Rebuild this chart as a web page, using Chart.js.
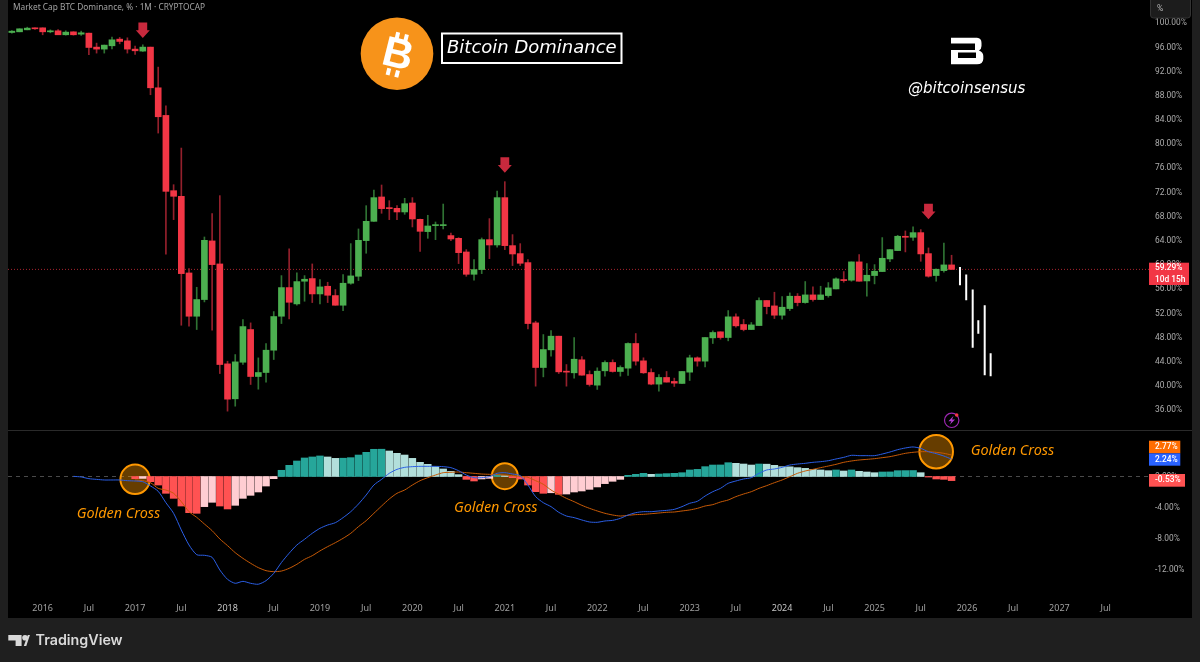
<!DOCTYPE html>
<html>
<head>
<meta charset="utf-8">
<title>Bitcoin Dominance</title>
<script src="https://cdn.jsdelivr.net/npm/chart.js@4"></script>
<style>
    html, body { margin: 0; padding: 0; background: #1f1f1f; overflow: hidden; }
    canvas { display: block; }
</style>
</head>
<body>
<canvas id="dominanceChart" width="1200" height="662"></canvas>
<script>
// Monthly categories
const monthLabels = [
    '2015-09', '2015-10', '2015-11', '2015-12',
    '2016-01', '2016-02', '2016-03', '2016-04', '2016-05', '2016-06', '2016-07', '2016-08', '2016-09', '2016-10', '2016-11', '2016-12',
    '2017-01', '2017-02', '2017-03', '2017-04', '2017-05', '2017-06', '2017-07', '2017-08', '2017-09', '2017-10', '2017-11', '2017-12',
    '2018-01', '2018-02', '2018-03', '2018-04', '2018-05', '2018-06', '2018-07', '2018-08', '2018-09', '2018-10', '2018-11', '2018-12',
    '2019-01', '2019-02', '2019-03', '2019-04', '2019-05', '2019-06', '2019-07', '2019-08', '2019-09', '2019-10', '2019-11', '2019-12',
    '2020-01', '2020-02', '2020-03', '2020-04', '2020-05', '2020-06', '2020-07', '2020-08', '2020-09', '2020-10', '2020-11', '2020-12',
    '2021-01', '2021-02', '2021-03', '2021-04', '2021-05', '2021-06', '2021-07', '2021-08', '2021-09', '2021-10', '2021-11', '2021-12',
    '2022-01', '2022-02', '2022-03', '2022-04', '2022-05', '2022-06', '2022-07', '2022-08', '2022-09', '2022-10', '2022-11', '2022-12',
    '2023-01', '2023-02', '2023-03', '2023-04', '2023-05', '2023-06', '2023-07', '2023-08', '2023-09', '2023-10', '2023-11', '2023-12',
    '2024-01', '2024-02', '2024-03', '2024-04', '2024-05', '2024-06', '2024-07', '2024-08', '2024-09', '2024-10', '2024-11', '2024-12',
    '2025-01', '2025-02', '2025-03', '2025-04', '2025-05', '2025-06', '2025-07', '2025-08', '2025-09', '2025-10', '2025-11', '2025-12',
    '2026-01', '2026-02', '2026-03', '2026-04', '2026-05', '2026-06', '2026-07', '2026-08', '2026-09', '2026-10', '2026-11', '2026-12',
    '2027-01', '2027-02', '2027-03', '2027-04', '2027-05', '2027-06', '2027-07', '2027-08', '2027-09', '2027-10', '2027-11', '2027-12'
];

// BTC dominance candles
const candleOpen = [
    98.48, 98.59, 98.92, 99.20, 99.25, 98.59, 98.76, 98.10, 98.59, 98.20,
    98.37, 96.06, 95.73, 96.28, 97.38, 97.10, 95.73, 95.40, 96.06, 89.33,
    84.76, 72.31, 71.38, 58.70, 51.54, 54.30, 64.00, 60.19, 43.66, 37.88,
    43.93, 49.34, 41.57, 42.23, 45.92, 51.54, 56.28, 53.58, 57.33, 57.77,
    55.23, 56.50, 54.96, 53.36, 57.00, 58.15, 64.05, 67.24, 71.27, 69.45,
    69.39, 68.79, 70.27, 67.57, 65.54, 66.53, 66.53, 64.88, 64.43, 62.17,
    58.48, 59.26, 64.21, 63.33, 71.16, 63.22, 61.90, 60.41, 50.44, 43.06,
    45.98, 48.24, 42.40, 42.18, 44.33, 41.90, 40.14, 42.51, 43.89, 42.40,
    42.95, 47.03, 44.16, 42.23, 40.31, 41.41, 40.75, 40.42, 42.29, 44.66,
    44.11, 47.96, 48.96, 48.02, 51.44, 50.17, 49.34, 50.00, 54.14, 53.25,
    51.71, 52.81, 54.85, 53.80, 55.07, 54.30, 54.96, 56.06, 57.61, 57.50,
    60.53, 57.38, 58.27, 58.93, 61.02, 62.40, 64.77, 64.60, 65.37, 61.90,
    58.27, 59.09, 60.03
];
const candleHigh = [
    98.81, 99.09, 99.36, 99.25, 99.25, 98.92, 98.98, 98.76, 98.60, 98.70,
    98.40, 96.72, 96.40, 97.71, 97.66, 97.60, 96.22, 96.44, 96.06, 92.75,
    86.36, 73.30, 79.36, 59.42, 56.33, 64.65, 68.51, 71.49, 44.10, 45.20,
    50.99, 50.44, 44.65, 47.02, 52.31, 58.26, 62.67, 58.70, 58.26, 60.19,
    57.60, 57.16, 55.95, 58.43, 63.55, 65.98, 69.83, 72.42, 73.25, 70.66,
    69.83, 71.05, 71.16, 67.60, 68.24, 67.13, 70.10, 65.31, 64.54, 62.56,
    60.91, 64.49, 67.69, 72.26, 73.80, 65.04, 63.55, 60.91, 50.72, 48.51,
    49.17, 48.24, 43.55, 48.00, 44.87, 42.51, 43.01, 44.16, 44.33, 43.34,
    47.14, 48.68, 44.66, 42.84, 41.90, 42.40, 41.30, 42.40, 45.10, 44.82,
    48.02, 49.12, 48.96, 52.48, 51.93, 51.00, 50.50, 54.58, 54.14, 55.51,
    54.80, 55.40, 55.29, 57.28, 56.40, 56.50, 57.11, 57.88, 58.93, 60.53,
    61.74, 60.25, 60.08, 64.55, 62.56, 64.93, 65.65, 66.31, 65.87, 62.84,
    59.37, 63.66, 61.63
];
const candleLow = [
    98.37, 98.59, 98.92, 98.98, 98.10, 98.43, 98.10, 98.04, 98.04, 98.00,
    94.80, 95.07, 95.07, 95.78, 96.60, 95.07, 94.85, 95.34, 88.18, 81.84,
    61.79, 67.52, 50.05, 49.89, 49.34, 53.91, 49.23, 42.06, 35.84, 36.66,
    43.55, 40.25, 39.47, 40.63, 44.38, 50.33, 51.10, 53.36, 54.02, 53.80,
    53.58, 53.80, 53.36, 52.48, 56.83, 57.44, 61.96, 67.24, 68.57, 67.52,
    67.52, 68.40, 66.31, 62.28, 64.43, 64.21, 65.98, 64.05, 60.25, 58.15,
    57.49, 58.59, 61.07, 62.95, 62.56, 59.92, 59.92, 49.45, 39.97, 41.51,
    44.93, 42.06, 39.97, 41.29, 41.79, 39.98, 39.43, 41.63, 42.29, 41.63,
    41.74, 43.45, 42.07, 40.20, 39.15, 40.64, 39.92, 40.42, 40.91, 43.28,
    43.17, 47.03, 47.74, 47.47, 49.73, 49.12, 49.34, 50.00, 51.93, 51.16,
    51.05, 52.48, 53.25, 53.69, 54.03, 54.30, 54.69, 56.06, 57.17, 57.33,
    57.33, 54.85, 56.89, 58.93, 60.58, 62.40, 62.18, 64.10, 60.63, 58.00,
    57.33, 58.82, 59.26
];
const candleClose = [
    98.70, 99.09, 99.20, 99.09, 98.59, 98.76, 98.10, 98.54, 98.10, 98.43,
    96.00, 95.73, 96.39, 97.27, 97.00, 95.73, 95.45, 96.06, 89.33, 84.54,
    72.20, 71.38, 58.59, 51.54, 54.30, 64.10, 60.08, 43.55, 37.82, 43.99,
    49.83, 41.57, 42.23, 45.92, 51.49, 56.28, 53.85, 57.27, 57.66, 55.23,
    56.39, 55.01, 53.36, 57.00, 58.21, 64.10, 67.24, 71.16, 69.34, 69.34,
    68.79, 70.16, 67.63, 65.59, 66.47, 66.64, 66.64, 64.32, 62.06, 58.48,
    59.26, 64.21, 63.33, 71.16, 63.22, 61.84, 60.30, 50.33, 43.06, 46.03,
    48.24, 42.34, 42.29, 44.43, 41.79, 40.25, 42.45, 43.89, 42.40, 43.06,
    47.03, 44.11, 42.18, 40.31, 41.41, 40.64, 40.47, 42.40, 44.66, 44.11,
    48.02, 48.85, 48.02, 51.44, 49.95, 49.34, 50.11, 54.14, 53.14, 51.71,
    53.03, 54.85, 53.80, 55.07, 54.30, 55.07, 56.23, 57.72, 57.44, 60.53,
    57.33, 58.32, 58.98, 61.13, 62.56, 64.77, 64.60, 65.37, 61.85, 58.16,
    59.31, 60.03, 59.29
];

// White projected bars after the last candle (x in month slots)
const projectionSlot = [123.09, 123.9, 124.74, 125.47, 126.3, 127.07];
const projectionHigh = [59.7, 58.43, 55.95, 50.88, 53.36, 45.42];
const projectionLow = [56.66, 54.18, 46.31, 48.63, 41.79, 41.62];

// MACD pane
const macdLine = [
    null, null, null, null, null, null, null, null,
    0.02, -0.06, -0.28, -0.37, -0.45, -0.45, -0.45, -0.54,
    -0.58, -0.67, -1.22, -1.91, -3.38, -4.75, -6.9, -8.84, -10.09, -10.17, -10.43, -12.06,
    -13.27, -13.78, -13.53, -13.78, -13.9, -13.44, -12.5, -11.1, -9.9, -8.84, -8.1, -7.33,
    -6.69, -6.26, -5.96, -5.31, -4.54, -3.55, -2.39, -1.1, -0.37, 0.41, 0.92,
    1.18, 1.27, 1.31, 1.31, 1.31, 1.27, 1.14, 0.75, 0.19, -0.15, -0.15, -0.02, 0.41,
    0.49, 0.32, 0.11, -1.1, -2.6, -3.38, -3.89, -4.62, -5.1, -5.31, -5.61, -5.87,
    -5.91, -5.74, -5.66, -5.4, -4.97, -4.67, -4.54, -4.54, -4.45, -4.37, -4.24, -3.89,
    -3.46, -3.2, -2.52, -1.96, -1.53, -0.88, -0.58, -0.32, -0.15, 0.41, 0.84, 0.97,
    1.18, 1.48, 1.61, 1.7, 1.83, 1.91, 2.04, 2.26, 2.47, 2.73, 2.69, 2.69,
    2.69, 2.9, 3.16, 3.46, 3.68, 3.81, 3.63, 3.2, 2.95, 2.64, 2.24
];
const signalLine = [
    null, null, null, null, null, null, null, null, null, null, null, null, null, null, null, null,
    -0.45, -0.54, -0.8, -1.53, -1.75, -2.17, -3.25, -4.54, -5.27, -6.13, -6.99, -8.06,
    -8.92, -9.83, -10.56, -11.2, -11.76, -12.15, -12.28, -12.2, -11.85, -11.33, -10.69, -10.22,
    -9.6, -9.05, -8.54, -7.98, -7.33, -6.47, -5.7, -4.75, -3.81, -2.9, -2.17,
    -1.74, -1.1, -0.54, -0.15, 0.19, 0.49, 0.54, 0.58, 0.49, 0.41, 0.32, 0.28, 0.24,
    0.19, 0.11, 0.02, -0.11, -0.54, -1.01, -1.74, -2.3, -2.82, -3.25, -3.72, -4.11,
    -4.45, -4.75, -4.97, -5.1, -5.01, -4.92, -4.88, -4.8, -4.71, -4.62, -4.58, -4.45,
    -4.32, -4.11, -3.81, -3.63, -3.29, -3.03, -2.6, -2.26, -1.96, -1.53, -1.18, -0.8,
    -0.45, -0.02, 0.41, 0.71, 0.92, 1.14, 1.35, 1.57, 1.83, 2.0, 2.13, 2.21,
    2.3, 2.43, 2.56, 2.77, 2.99, 3.12, 3.2, 3.2, 3.12, 2.99, 2.77
];
const macdHist = [
    null, null, null, null, null, null, null, null, null, null, null, null, null, null, null, null,
    -0.28, -0.25, -0.67, -1.1, -2.17, -2.82, -3.81, -4.67, -4.75, -3.89, -3.33, -3.81,
    -4.19, -3.72, -2.82, -2.43, -2.0, -1.23, -0.28, 0.8, 1.44, 2.0, 2.39, 2.52,
    2.65, 2.52, 2.34, 2.36, 2.43, 2.77, 3.12, 3.51, 3.52, 3.29, 2.99,
    2.77, 2.34, 1.83, 1.57, 1.27, 0.97, 0.67, 0.24, -0.37, -0.58, -0.32, -0.24, 0.2,
    0.1, -0.15, -0.32, -1.1, -1.96, -2.17, -2.1, -2.3, -2.26, -2.0, -1.87, -1.66,
    -1.35, -0.92, -0.62, -0.37, 0.15, 0.28, 0.41, 0.28, 0.32, 0.37, 0.41, 0.49,
    0.84, 0.92, 1.27, 1.48, 1.49, 1.78, 1.7, 1.61, 1.48, 1.61, 1.59, 1.44,
    1.27, 1.25, 1.14, 1.05, 0.92, 0.84, 0.75, 0.84, 0.71, 0.84, 0.67, 0.58,
    0.49, 0.58, 0.59, 0.75, 0.76, 0.77, 0.49, -0.07, -0.32, -0.37, -0.53
];

// Golden cross markers on the MACD pane
const crossMonths = ['2017-01', '2021-01', '2025-09'];
const crossValues = [-0.36, 0.04, 3.2];
const crossRadius = [14.7, 13, 16.8];

// Red arrows above the tops
const arrowMonths = ['2017-02', '2021-01', '2025-08'];
const arrowTips = [97.57, 75.29, 67.58];

// Tick labels
const priceTicks = [100, 96, 92, 88, 84, 80, 76, 72, 68, 64, 60, 56, 52, 48, 44, 40, 36];
const macdTicks = [0, -4, -8, -12];
const currentPrice = 59.29;

const PANEL_BG = '#000000';
const FRAME_BG = '#1f1f1f';
const UP = '#4caf50';
const DOWN = '#f23645';

function isUp(i) {
    return candleClose[i] >= candleOpen[i];
}

function histColor(i) {
    const value = macdHist[i];
    const prev = macdHist[i - 1] ?? 0;
    if (value >= 0) return value >= prev ? '#26a69a' : '#b2dfdb';
    return value <= prev ? '#ff5252' : '#ffcdd2';
}

// Thin white segments, broken by a null point between bars
function projectionPoints() {
    const points = [];
    projectionSlot.forEach((slot, i) => {
        points.push({ x: slot, y: projectionHigh[i] });
        points.push({ x: slot, y: projectionLow[i] });
        points.push({ x: slot, y: null });
    });
    return points;
}

// Full length series so the big markers don't count as layout overflow
function crossValueAt(month) {
    const i = crossMonths.indexOf(month);
    return i === -1 ? null : crossValues[i];
}

function crossRadiusAt(index) {
    const i = crossMonths.indexOf(monthLabels[index]);
    return i === -1 ? 0 : crossRadius[i];
}

function drawTag(ctx, x, y, w, h, color, lines) {
    ctx.fillStyle = color;
    ctx.fillRect(x, y, w, h);
    ctx.fillStyle = '#ffffff';
    ctx.font = '500 8.4px Roboto';
    ctx.textAlign = 'left';
    ctx.textBaseline = 'middle';
    lines.forEach((line, i) => {
        ctx.fillText(line, x + 6, y + (h / lines.length) * (i + 0.5));
    });
}

function drawArrows(ctx, xScale, yScale) {
    ctx.fillStyle = '#c8293d';
    arrowMonths.forEach((month, i) => {
        const x = xScale.getPixelForValue(monthLabels.indexOf(month));
        const tip = yScale.getPixelForValue(arrowTips[i]);
        ctx.beginPath();
        ctx.moveTo(x, tip);
        ctx.lineTo(x - 7, tip - 7.7);
        ctx.lineTo(x - 4.4, tip - 7.7);
        ctx.lineTo(x - 4.4, tip - 15.4);
        ctx.lineTo(x + 4.4, tip - 15.4);
        ctx.lineTo(x + 4.4, tip - 7.7);
        ctx.lineTo(x + 7, tip - 7.7);
        ctx.closePath();
        ctx.fill();
    });
}

function drawBitcoinLogo(ctx) {
    ctx.fillStyle = '#f7931a';
    ctx.beginPath();
    ctx.arc(397, 53.7, 36.3, 0, Math.PI * 2);
    ctx.fill();
    ctx.save();
    ctx.translate(397, 53.7);
    ctx.rotate(14 * Math.PI / 180);
    ctx.fillStyle = '#ffffff';
    ctx.font = 'bold 42px "Liberation Sans"';
    ctx.textAlign = 'center';
    ctx.textBaseline = 'middle';
    ctx.fillText('B', 1, 2);
    [-6, 3].forEach(x => {
        ctx.fillRect(x, -21, 4, 7);
        ctx.fillRect(x, 16, 4, 7);
    });
    ctx.restore();
}

function drawBrandMark(ctx) {
    ctx.fillStyle = '#ffffff';
    ctx.beginPath();
    ctx.moveTo(951, 37.7);
    ctx.lineTo(977, 37.7);
    ctx.quadraticCurveTo(981.5, 38, 981.5, 43);
    ctx.lineTo(981.5, 46);
    ctx.quadraticCurveTo(981.5, 49, 979, 50.5);
    ctx.quadraticCurveTo(983.3, 52, 983.3, 56);
    ctx.lineTo(983.3, 59);
    ctx.quadraticCurveTo(983, 64.3, 977, 64.3);
    ctx.lineTo(951, 64.3);
    ctx.lineTo(951, 50);
    ctx.lineTo(975, 50);
    ctx.lineTo(975, 43.5);
    ctx.lineTo(951, 43.5);
    ctx.closePath();
    ctx.fill();
    ctx.fillStyle = PANEL_BG;
    ctx.fillRect(958, 52.5, 18, 5.5);
}

function drawLightning(ctx) {
    ctx.strokeStyle = '#9c27b0';
    ctx.lineWidth = 1.2;
    ctx.beginPath();
    ctx.arc(951.7, 420.3, 7.2, 0, Math.PI * 2);
    ctx.stroke();
    ctx.fillStyle = '#b23bd0';
    ctx.beginPath();
    ctx.moveTo(953.6, 415.8);
    ctx.lineTo(948.4, 421.2);
    ctx.lineTo(951.4, 421.2);
    ctx.lineTo(949.8, 424.8);
    ctx.lineTo(955, 419.4);
    ctx.lineTo(952, 419.4);
    ctx.closePath();
    ctx.fill();
    ctx.fillStyle = '#f23645';
    ctx.beginPath();
    ctx.arc(956.7, 415, 1.8, 0, Math.PI * 2);
    ctx.fill();
}

function drawTradingViewLogo(ctx) {
    ctx.fillStyle = '#d9d9d9';
    ctx.beginPath();
    ctx.moveTo(8.3, 635);
    ctx.lineTo(21.6, 635);
    ctx.lineTo(21.6, 646);
    ctx.lineTo(15.6, 646);
    ctx.lineTo(15.6, 640.6);
    ctx.lineTo(8.3, 640.6);
    ctx.closePath();
    ctx.fill();
    ctx.beginPath();
    ctx.arc(25, 637.8, 2.8, 0, Math.PI * 2);
    ctx.fill();
    ctx.beginPath();
    ctx.moveTo(23.8, 646);
    ctx.lineTo(27.8, 635);
    ctx.lineTo(30, 635);
    ctx.lineTo(29.6, 636);
    ctx.lineTo(26.3, 646);
    ctx.closePath();
    ctx.fill();
    ctx.textAlign = 'left';
    ctx.textBaseline = 'middle';
    ctx.font = '600 14.3px "Inter"';
    ctx.fillText('TradingView', 35.5, 641);
}

function drawText(ctx, text, x, y, font, color) {
    ctx.fillStyle = color;
    ctx.font = font;
    ctx.textAlign = 'left';
    ctx.textBaseline = 'middle';
    ctx.fillText(text, x, y);
}

const framePlugin = {
    id: 'frame',
    beforeDraw(chart) {
        const ctx = chart.ctx;
        ctx.save();
        ctx.fillStyle = FRAME_BG;
        ctx.fillRect(0, 0, chart.width, chart.height);
        ctx.fillStyle = PANEL_BG;
        ctx.fillRect(8, 0, 1184, 618);
        ctx.restore();
    },
    beforeDatasetsDraw(chart) {
        const ctx = chart.ctx;
        const { y, y2 } = chart.scales;
        ctx.save();
        // last price line
        ctx.strokeStyle = '#a8242f';
        ctx.lineWidth = 1;
        ctx.setLineDash([1, 2]);
        ctx.beginPath();
        ctx.moveTo(8, y.getPixelForValue(currentPrice));
        ctx.lineTo(1149, y.getPixelForValue(currentPrice));
        ctx.stroke();
        // MACD zero line
        ctx.strokeStyle = '#4a4a4a';
        ctx.setLineDash([4, 4]);
        ctx.beginPath();
        ctx.moveTo(8, y2.getPixelForValue(0));
        ctx.lineTo(1149, y2.getPixelForValue(0));
        ctx.stroke();
        ctx.setLineDash([]);
        // pane separator
        ctx.strokeStyle = '#2a2a2a';
        ctx.beginPath();
        ctx.moveTo(8, 430.5);
        ctx.lineTo(1192, 430.5);
        ctx.stroke();
        ctx.restore();
    },
    afterDraw(chart) {
        const ctx = chart.ctx;
        const { x, y } = chart.scales;
        ctx.save();
        drawArrows(ctx, x, y);
        drawBitcoinLogo(ctx);

        ctx.strokeStyle = '#ffffff';
        ctx.lineWidth = 2;
        ctx.strokeRect(442, 33.5, 179.5, 29.5);
        drawText(ctx, 'Bitcoin Dominance', 447, 48.5, 'italic 18px "DejaVu Sans"', '#ffffff');

        drawBrandMark(ctx);
        drawText(ctx, '@bitcoinsensus', 908, 89, 'italic 15px "DejaVu Sans"', '#ffffff');

        drawText(ctx, 'Market Cap BTC Dominance, % · 1M · CRYPTOCAP', 13, 8, '8.3px "Noto Sans"', '#a3a3a3');

        drawText(ctx, 'Golden Cross', 76.7, 514.3, 'italic 14.4px "Noto Sans"', '#ff9800');
        drawText(ctx, 'Golden Cross', 454, 508.3, 'italic 14.4px "Noto Sans"', '#ff9800');
        drawText(ctx, 'Golden Cross', 970.7, 450.7, 'italic 14.4px "Noto Sans"', '#ff9800');

        drawLightning(ctx);

        // % button
        ctx.fillStyle = '#1c1c1c';
        ctx.strokeStyle = '#333333';
        ctx.lineWidth = 1;
        ctx.beginPath();
        ctx.roundRect(1150.5, -4, 40, 22, 3);
        ctx.fill();
        ctx.stroke();
        drawText(ctx, '%', 1157, 8.5, '8.5px Roboto', '#b5b5b5');

        drawTag(ctx, 1149, 262.7, 40, 22.3, DOWN, ['59.29%', '10d 15h']);
        drawTag(ctx, 1149, 440.7, 31.3, 12.6, '#ff6d00', ['2.77%']);
        drawTag(ctx, 1149, 453.3, 31.3, 12.4, '#2962ff', ['2.24%']);
        drawTag(ctx, 1149, 474, 36, 12.7, '#ff5252', ['-0.53%']);

        drawTradingViewLogo(ctx);
        ctx.restore();
    }
};

// Stop the first and last tick labels from pushing the plot area in
function fixPadding(scale) {
    scale.paddingTop = 0;
    scale.paddingBottom = 0;
    scale.paddingLeft = 0;
    scale.paddingRight = 0;
}

function fitValueAxis(scale) {
    scale.width = 44;
    fixPadding(scale);
}

const axisTickFont = { family: 'Roboto', size: 8.4 };

new Chart(document.getElementById('dominanceChart'), {
    type: 'bar',
    plugins: [framePlugin],
    data: {
        labels: monthLabels,
        datasets: [
            {
                type: 'line',
                label: 'Projection',
                data: projectionPoints(),
                xAxisID: 'slots',
                yAxisID: 'y',
                borderColor: '#ffffff',
                borderWidth: 2,
                pointRadius: 0,
                spanGaps: false,
                order: 1
            },
            {
                label: 'Body',
                data: candleOpen.map((open, i) => [open, candleClose[i]]),
                yAxisID: 'y',
                grouped: false,
                barThickness: 6,
                minBarLength: 1,
                backgroundColor: ctx => (isUp(ctx.dataIndex) ? UP : DOWN),
                order: 2
            },
            {
                label: 'Wick',
                data: candleLow.map((low, i) => [low, candleHigh[i]]),
                yAxisID: 'y',
                grouped: false,
                barThickness: 1,
                backgroundColor: ctx => (isUp(ctx.dataIndex) ? '#2f7233' : '#94202c'),
                order: 3
            },
            {
                type: 'line',
                label: 'MACD',
                data: macdLine,
                yAxisID: 'y2',
                borderColor: '#2b5fe6',
                borderWidth: 1,
                tension: 0.25,
                pointRadius: 0,
                order: 4
            },
            {
                type: 'line',
                label: 'Signal',
                data: signalLine,
                yAxisID: 'y2',
                borderColor: '#c85a06',
                borderWidth: 1,
                tension: 0.25,
                pointRadius: 0,
                order: 5
            },
            {
                label: 'Histogram',
                data: macdHist,
                yAxisID: 'y2',
                grouped: false,
                barThickness: 6.8,
                backgroundColor: ctx => histColor(ctx.dataIndex),
                order: 6
            },
            {
                type: 'line',
                label: 'Golden Cross',
                data: monthLabels.map(crossValueAt),
                yAxisID: 'y2',
                showLine: false,
                pointRadius: ctx => crossRadiusAt(ctx.dataIndex),
                pointBackgroundColor: 'rgba(255, 152, 0, 0.4)',
                pointBorderColor: '#ff9800',
                pointBorderWidth: 2,
                order: 7
            }
        ]
    },
    options: {
        responsive: false,
        animation: false,
        layout: { autoPadding: false, padding: { left: 8, right: 8, top: 0, bottom: 44 } },
        plugins: { legend: { display: false }, tooltip: { enabled: false } },
        scales: {
            x: {
                type: 'category',
                grid: { display: false, drawTicks: false },
                border: { display: false },
                afterFit(scale) {
                    scale.height = 21;
                    fixPadding(scale);
                },
                ticks: {
                    autoSkip: false,
                    maxRotation: 0,
                    minRotation: 0,
                    padding: 6,
                    color: ctx => (String(monthLabels[ctx.index]).endsWith('-01') ? '#c4c4c4' : '#a0a0a0'),
                    font: { family: '"Noto Sans"', size: 9 },
                    callback(value, index) {
                        const [year, month] = monthLabels[index].split('-');
                        if (month === '01') return year;
                        if (month === '07') return 'Jul';
                        return null;
                    }
                }
            },
            // hidden axis in month slots, for the bars that fall between months
            slots: {
                type: 'linear',
                display: false,
                offset: false,
                min: -0.5,
                max: 147.5
            },
            y: {
                position: 'right',
                stack: 'panes',
                stackWeight: 430,
                weight: 0,
                min: 32.72,
                max: 103.854,
                grid: { display: false, drawTicks: false },
                border: { display: false },
                afterBuildTicks(scale) {
                    scale.ticks = priceTicks.map(value => ({ value }));
                },
                afterFit: fitValueAxis,
                ticks: {
                    crossAlign: 'near',
                    padding: 7,
                    color: '#adadad',
                    font: axisTickFont,
                    callback: value => value.toFixed(2) + '%'
                }
            },
            y2: {
                position: 'right',
                stack: 'panes',
                stackWeight: 167,
                weight: 1,
                min: -15.55,
                max: 6.0,
                grid: { display: false, drawTicks: false },
                border: { display: false },
                afterBuildTicks(scale) {
                    scale.ticks = macdTicks.map(value => ({ value }));
                },
                afterFit: fitValueAxis,
                ticks: {
                    crossAlign: 'near',
                    padding: 7,
                    color: '#adadad',
                    font: axisTickFont,
                    callback: value => value.toFixed(2) + '%'
                }
            }
        }
    }
});
</script>
</body>
</html>
